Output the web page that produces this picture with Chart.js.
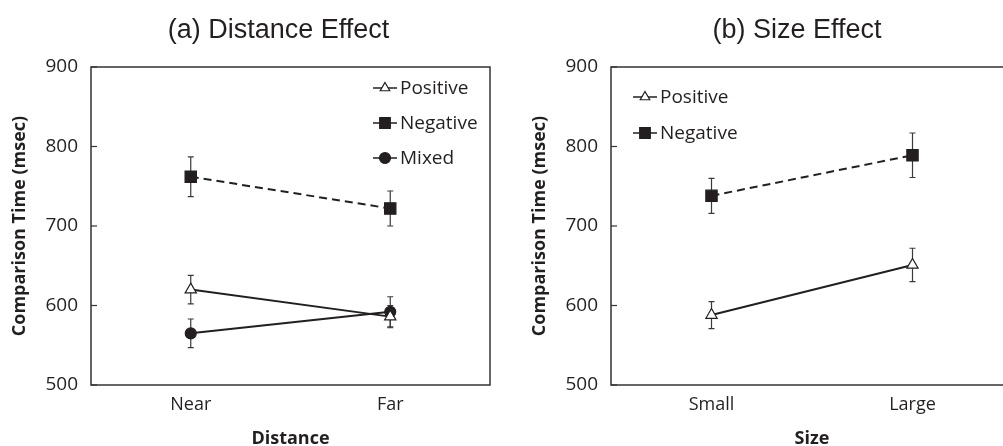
<!DOCTYPE html>
<html><head><meta charset="utf-8">
<script src="https://cdn.jsdelivr.net/npm/chart.js@4/dist/chart.umd.min.js"></script>
<style>
html,body{margin:0;padding:0;overflow:hidden;background:#fff;width:1003px;height:446px}
#wrap{position:relative;width:1003px;height:446px;overflow:hidden;background:#fff}
.panel{position:absolute;top:0;height:446px}
#pa{left:0;width:500px}
#pb{left:520px;width:503px}
canvas{display:block}
</style></head><body>
<div id="wrap">
<div class="panel" id="pa"><canvas id="ca" width="500" height="446"></canvas></div>
<div class="panel" id="pb"><canvas id="cb" width="503" height="446"></canvas></div>
</div>
<script>
// ---- data ----
const distanceCategories = ['Near', 'Far'];
const distPositive = [620, 586];
const distPositiveErr = [18, 14];
const distNegative = [762, 722];
const distNegativeErr = [25, 22];
const distMixed = [565, 592];
const distMixedErr = [18, 19];

const sizeCategories = ['Small', 'Large'];
const sizePositive = [588, 651];
const sizePositiveErr = [17, 21];
const sizeNegative = [738, 789];
const sizeNegativeErr = [22, 28];

const yMin = 500, yMax = 900, yStep = 100;

// ---- styles ----
const INK = '#231f20';
const FONT = '"Open Sans", "DejaVu Sans", sans-serif';

function marker(ctx, style, x, y, r, fill, stroke, bw) {
  ctx.save();
  ctx.beginPath();
  if (style === 'triangle') {
    ctx.moveTo(x, y - r);
    ctx.lineTo(x + 0.866 * r, y + 0.5 * r);
    ctx.lineTo(x - 0.866 * r, y + 0.5 * r);
    ctx.closePath();
  } else if (style === 'rect') {
    const s = r * Math.SQRT1_2;
    ctx.rect(x - s, y - s, 2 * s, 2 * s);
  } else {
    ctx.arc(x, y, r, 0, Math.PI * 2);
  }
  ctx.fillStyle = fill; ctx.fill();
  ctx.lineWidth = bw; ctx.strokeStyle = stroke; ctx.stroke();
  ctx.restore();
}

const errorBarPlugin = {
  id: 'errorBars',
  beforeDatasetsDraw(chart) {
    const ctx = chart.ctx, xs = chart.scales.x, ys = chart.scales.y;
    ctx.save();
    ctx.strokeStyle = '#3a3a3a';
    ctx.lineWidth = 1.2;
    chart.data.datasets.forEach(ds => {
      (ds.errors || []).forEach((e, i) => {
        const x = xs.getPixelForValue(i);
        const y1 = ys.getPixelForValue(ds.data[i] + e);
        const y2 = ys.getPixelForValue(ds.data[i] - e);
        ctx.beginPath();
        ctx.moveTo(x, y1); ctx.lineTo(x, y2);
        ctx.moveTo(x - 3, y1); ctx.lineTo(x + 3, y1);
        ctx.moveTo(x - 3, y2); ctx.lineTo(x + 3, y2);
        ctx.stroke();
      });
    });
    ctx.restore();
  }
};

const decoPlugin = {
  id: 'panelDeco',
  afterDraw(chart, args, opts) {
    const ctx = chart.ctx, a = chart.chartArea, ys = chart.scales.y;
    ctx.save();
    // frame
    ctx.strokeStyle = '#333';
    ctx.lineWidth = 1.5;
    ctx.strokeRect(a.left, a.top, a.right - a.left, a.bottom - a.top);
    // inward ticks
    ctx.lineWidth = 1.2;
    ys.ticks.forEach(t => {
      const y = ys.getPixelForValue(t.value);
      ctx.beginPath(); ctx.moveTo(a.left, y); ctx.lineTo(a.left + 6, y); ctx.stroke();
    });
    // title
    ctx.fillStyle = INK;
    ctx.font = '27px "Liberation Sans", Arial, sans-serif';
    ctx.textAlign = 'center';
    ctx.textBaseline = 'middle';
    ctx.fillText(opts.title, (a.left + a.right) / 2 + opts.titleDx, opts.titleY);
    // legend
    ctx.font = '19px ' + FONT;
    ctx.textAlign = 'left';
    chart.data.datasets.forEach((ds, i) => {
      const x0 = a.left + opts.legendX;
      const y = a.top + opts.legendY + i * opts.legendGap;
      ctx.strokeStyle = INK; ctx.lineWidth = 1.5; ctx.setLineDash([]);
      ctx.beginPath(); ctx.moveTo(x0, y); ctx.lineTo(x0 + 24, y); ctx.stroke();
      marker(ctx, ds.pointStyle, x0 + 12, y, ds.legendRadius, ds.pointBackgroundColor, INK, 1.2);
      ctx.fillStyle = INK;
      ctx.fillText(ds.label, x0 + 27, y + 1);
    });
    ctx.restore();
  }
};

function ds(label, data, errors, style) {
  const base = {
    label, data, errors,
    borderColor: INK, borderWidth: 2, tension: 0, fill: false,
    pointBorderColor: INK, pointBorderWidth: 1.2, pointHoverRadius: 0
  };
  if (style === 'triangle') Object.assign(base, {pointStyle: 'triangle', pointRadius: 6.5, pointBackgroundColor: '#fff', legendRadius: 5.5});
  if (style === 'rect') Object.assign(base, {pointStyle: 'rect', pointRadius: 8, pointBackgroundColor: INK, borderDash: [8, 5], legendRadius: 7.5});
  if (style === 'circle') Object.assign(base, {pointStyle: 'circle', pointRadius: 5.5, pointBackgroundColor: INK, legendRadius: 5.5});
  return base;
}

function makeOptions(xTitle, deco) {
  return {
    responsive: false,
    animation: false,
    layout: {padding: {top: 67, right: 10, bottom: 0, left: 0}},
    plugins: {legend: {display: false}, tooltip: {enabled: false}, panelDeco: deco},
    scales: {
      x: {
        type: 'category', offset: true,
        grid: {display: false, drawTicks: false}, border: {display: false},
        ticks: {padding: 9, color: INK, font: {family: FONT, size: 18}},
        title: {display: true, text: xTitle, color: INK, padding: {top: 0, bottom: -2},
                font: {family: FONT, size: 18, weight: 'bold', lineHeight: 1}},
        afterFit(s) { s.height = 61; }
      },
      y: {
        min: yMin, max: yMax,
        grid: {display: false, drawTicks: false}, border: {display: false},
        ticks: {stepSize: yStep, padding: 13, color: INK, font: {family: FONT, size: 19}},
        title: {display: true, text: 'Comparison Time (msec)', color: INK, padding: {top: 11, bottom: 0},
                font: {family: FONT, size: 18, weight: 'bold', lineHeight: 1}},
        afterFit(s) { s.width = 91; }
      }
    }
  };
}

new Chart(document.getElementById('ca'), {
  type: 'line',
  data: {
    labels: distanceCategories,
    datasets: [
      ds('Positive', distPositive, distPositiveErr, 'triangle'),
      ds('Negative', distNegative, distNegativeErr, 'rect'),
      ds('Mixed', distMixed, distMixedErr, 'circle')
    ]
  },
  options: makeOptions('Distance', {title: '(a) Distance Effect', titleDx: -12, titleY: 31, legendX: 282, legendY: 21, legendGap: 35}),
  plugins: [errorBarPlugin, decoPlugin]
});

new Chart(document.getElementById('cb'), {
  type: 'line',
  data: {
    labels: sizeCategories,
    datasets: [
      ds('Positive', sizePositive, sizePositiveErr, 'triangle'),
      ds('Negative', sizeNegative, sizeNegativeErr, 'rect')
    ]
  },
  options: makeOptions('Size', {title: '(b) Size Effect', titleDx: -15, titleY: 31, legendX: 22, legendY: 30, legendGap: 36}),
  plugins: [errorBarPlugin, decoPlugin]
});
</script>
</body></html>
